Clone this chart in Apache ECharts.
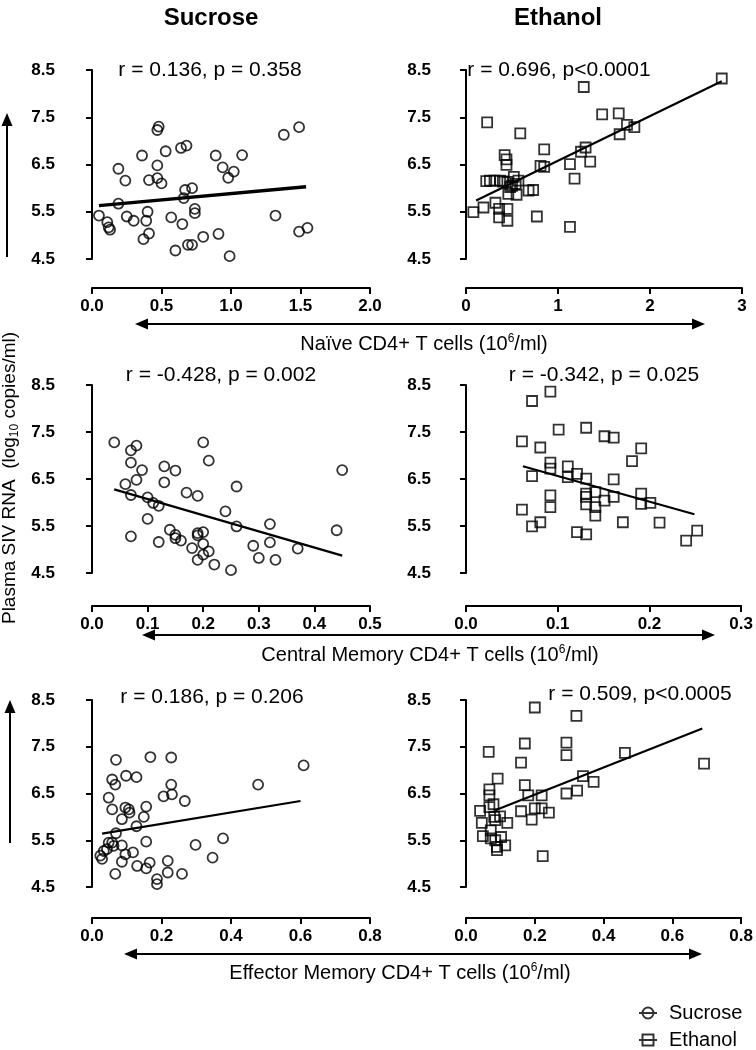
<!DOCTYPE html>
<html><head><meta charset="utf-8">
<script src="https://cdn.jsdelivr.net/npm/echarts@6/dist/echarts.min.js"></script>
<style>html,body{margin:0;padding:0;background:#fff}#c{width:756px;height:1050px}</style>
</head><body><div id="c"></div>
<script>
// ---------- DATA ----------
const yTicks = [4.5, 5.5, 6.5, 7.5, 8.5];

// Naive CD4+ T cells
const sucNaiveX = [0.05,0.11,0.12,0.13,0.19,0.19,0.24,0.25,0.30,0.36,0.37,0.40,0.39,0.41,0.41,0.47,0.48,0.47,0.47,0.50,0.53,0.57,0.60,0.64,0.68,0.65,0.66,0.67,0.72,0.69,0.72,0.74,0.74,0.80,0.89,0.94,0.98,1.02,0.91,0.99,1.08,1.32,1.38,1.49,1.49,1.55];
const sucNaiveY = [5.42,5.28,5.17,5.12,6.41,5.67,6.16,5.40,5.31,6.69,4.92,5.50,5.31,5.04,6.17,7.23,7.30,6.48,6.21,6.10,6.78,5.38,4.68,6.85,6.90,5.24,5.79,5.96,6.00,4.80,4.80,5.56,5.47,4.97,6.69,6.44,6.22,6.35,5.03,4.56,6.70,5.42,7.13,7.29,5.08,5.16];
const ethNaiveX = [0.08,0.19,0.23,0.22,0.26,0.31,0.32,0.36,0.36,0.37,0.42,0.44,0.44,0.45,0.45,0.45,0.46,0.48,0.52,0.54,0.55,0.57,0.59,0.68,0.73,0.77,0.81,0.85,0.85,1.13,1.13,1.18,1.25,1.28,1.30,1.35,1.48,1.66,1.67,1.75,1.83,2.78,0.50,0.40];
const ethNaiveY = [5.49,5.59,7.39,6.15,6.16,6.16,5.69,5.56,5.38,6.16,6.70,6.61,6.49,6.13,5.56,5.31,5.88,6.02,6.24,6.09,5.86,6.16,7.16,5.95,5.96,5.40,6.47,6.45,6.82,6.51,5.18,6.20,6.77,8.14,6.86,6.56,7.56,7.58,7.14,7.34,7.29,8.32,6.05,6.14];

// Central Memory CD4+ T cells
const sucCMX = [0.04,0.07,0.08,0.07,0.09,0.08,0.06,0.07,0.10,0.11,0.12,0.10,0.07,0.12,0.13,0.15,0.13,0.14,0.15,0.15,0.16,0.17,0.19,0.18,0.19,0.19,0.20,0.19,0.20,0.20,0.21,0.20,0.21,0.22,0.24,0.25,0.26,0.26,0.29,0.30,0.32,0.32,0.33,0.37,0.44,0.45];
const sucCMY = [7.28,7.11,7.21,6.85,6.69,6.48,6.39,6.16,6.11,5.99,5.93,5.65,5.28,5.16,6.77,6.68,6.43,5.42,5.31,5.24,5.19,6.21,6.14,5.03,5.35,5.30,5.37,4.78,5.12,4.89,4.96,7.28,6.89,4.68,5.81,4.56,6.34,5.49,5.08,4.82,5.54,5.15,4.78,5.02,5.41,6.69];
const ethCMX = [0.061,0.061,0.072,0.072,0.072,0.081,0.081,0.092,0.092,0.092,0.092,0.092,0.101,0.111,0.111,0.121,0.121,0.131,0.131,0.131,0.131,0.131,0.131,0.141,0.141,0.141,0.151,0.151,0.161,0.161,0.161,0.171,0.181,0.191,0.191,0.191,0.201,0.211,0.240,0.252];
const ethCMY = [7.30,5.85,8.16,6.56,5.49,7.17,5.58,8.36,6.85,6.72,6.15,5.90,7.55,6.77,6.54,6.61,5.37,7.59,6.51,6.19,6.12,5.96,5.32,6.22,5.90,5.72,7.41,6.04,7.38,6.49,6.12,5.58,6.88,7.15,6.19,5.97,5.99,5.57,5.19,5.40];

// Effector Memory CD4+ T cells
const sucEMX = [0.024,0.029,0.034,0.043,0.048,0.048,0.058,0.058,0.067,0.069,0.058,0.062,0.069,0.067,0.086,0.086,0.086,0.096,0.098,0.106,0.108,0.096,0.118,0.128,0.128,0.130,0.149,0.156,0.156,0.156,0.166,0.168,0.187,0.187,0.206,0.218,0.218,0.228,0.228,0.230,0.259,0.267,0.298,0.347,0.377,0.478,0.609];
const sucEMY = [5.17,5.10,5.27,5.31,5.45,6.41,6.16,6.80,6.69,7.22,5.45,5.38,5.65,4.78,5.39,5.04,5.95,6.20,6.88,6.16,6.09,5.20,5.24,6.85,5.80,4.95,6.00,6.22,5.47,4.90,5.02,7.28,4.67,4.56,6.44,5.06,4.81,7.27,6.69,6.48,4.78,6.34,5.40,5.13,5.54,6.69,7.10];
const ethEMX = [0.041,0.046,0.049,0.066,0.068,0.068,0.068,0.072,0.072,0.080,0.082,0.085,0.085,0.090,0.090,0.092,0.099,0.102,0.114,0.120,0.160,0.160,0.171,0.171,0.181,0.191,0.200,0.200,0.220,0.220,0.223,0.241,0.292,0.292,0.292,0.321,0.323,0.340,0.371,0.462,0.692];
const ethEMY = [6.13,5.87,5.59,7.39,6.59,6.46,6.21,5.71,5.54,6.27,6.00,5.93,5.50,5.36,5.29,6.82,6.01,5.57,5.39,5.87,6.12,7.16,7.57,6.68,6.46,5.94,8.34,6.18,6.46,6.18,5.16,6.09,7.59,7.32,6.50,8.16,6.56,6.87,6.75,7.37,7.14];

// Regression line end points
const fitSucNaiveX = [0.05, 1.54], fitSucNaiveY = [5.63, 6.03];
const fitEthNaiveX = [0.11, 2.78], fitEthNaiveY = [5.74, 8.26];
const fitSucCMX = [0.04, 0.45],   fitSucCMY = [6.28, 4.87];
const fitEthCMX = [0.062, 0.249], fitEthCMY = [6.77, 5.75];
const fitSucEMX = [0.029, 0.60],  fitSucEMY = [5.64, 6.34];
const fitEthEMX = [0.085, 0.687], fitEthEMY = [6.14, 7.89];

const statTexts = ['r = 0.136, p = 0.358','r = 0.696, p<0.0001','r = -0.428, p = 0.002','r = -0.342, p = 0.025','r = 0.186, p = 0.206','r = 0.509, p<0.0005'];
const groupNames = ['Sucrose','Ethanol'];
const xTitles = ['Naïve CD4+ T cells (10','Central Memory CD4+ T cells (10','Effector Memory CD4+ T cells (10'];

// ---------- BUILD ----------
const FONT = '"Liberation Sans", Arial, Helvetica, sans-serif';
const zip = (a,b) => a.map((v,i)=>[v,b[i]]);

const panels = [
  {x:sucNaiveX,y:sucNaiveY,fx:fitSucNaiveX,fy:fitSucNaiveY,g:0,xmax:2,  xint:0.5,dec:1,lw:3.4},
  {x:ethNaiveX,y:ethNaiveY,fx:fitEthNaiveX,fy:fitEthNaiveY,g:1,xmax:3,  xint:1,  dec:0,lw:2.2},
  {x:sucCMX,   y:sucCMY,   fx:fitSucCMX,   fy:fitSucCMY,   g:0,xmax:0.5,xint:0.1,dec:1,lw:2.2},
  {x:ethCMX,   y:ethCMY,   fx:fitEthCMX,   fy:fitEthCMY,   g:1,xmax:0.3,xint:0.1,dec:1,lw:2.2},
  {x:sucEMX,   y:sucEMY,   fx:fitSucEMX,   fy:fitSucEMY,   g:0,xmax:0.8,xint:0.2,dec:1,lw:2.2},
  {x:ethEMX,   y:ethEMY,   fx:fitEthEMX,   fy:fitEthEMY,   g:1,xmax:0.8,xint:0.2,dec:1,lw:2.2}
];
const rowTop = [70, 385, 700], rowH = [189, 188, 187], xOff = [29, 33, 31];
const colLeft = [92, 466], colW = [278, 276], yOff = [30, 28];

const axisLine = {show:true, lineStyle:{color:'#000', width:2}};
const axisTick = {show:true, length:6, lineStyle:{color:'#000', width:2}};
const tickFont = {color:'#000', fontFamily:FONT, fontWeight:'bold', fontSize:17};

const grid=[], xAxis=[], yAxis=[], series=[];
panels.forEach((p,i)=>{
  const r = Math.floor(i/2), c = i%2;
  grid.push({left:colLeft[c], top:rowTop[r], width:colW[c], height:rowH[r], containLabel:false});
  xAxis.push({type:'value', gridIndex:i, min:0, max:p.xmax, interval:p.xint, offset:xOff[r],
    axisLine, axisTick, splitLine:{show:false},
    axisLabel:Object.assign({margin:10, formatter:v=>v.toFixed(p.dec)}, tickFont)});
  yAxis.push({type:'value', gridIndex:i, min:4.5, max:8.5, offset:yOff[c],
    axisLine, axisTick:Object.assign({customValues:yTicks}, axisTick), splitLine:{show:false},
    axisLabel:Object.assign({margin:7, customValues:yTicks, formatter:v=>v.toFixed(1)}, tickFont)});
  series.push({type:'scatter', name:groupNames[p.g], xAxisIndex:i, yAxisIndex:i,
    data:zip(p.x,p.y), symbol:p.g===0?'circle':'rect', symbolSize:10,
    itemStyle:{color:'rgba(0,0,0,0)', borderColor:'#000', borderWidth:1.8}, z:3});
  series.push({type:'line', name:'fit'+i, xAxisIndex:i, yAxisIndex:i, data:zip(p.fx,p.fy),
    symbol:'none', lineStyle:{color:'#000', width:p.lw}, z:4, silent:true});
});

// ---------- annotations ----------
const graphic = [];
function txt(x,y,text,size,bold){
  graphic.push({type:'text', x, y, style:{text, fill:'#000', font:(bold?'bold ':'')+size+'px '+FONT, align:'center', verticalAlign:'middle'}});
}
txt(211, 18, 'Sucrose', 24, true);
txt(558, 18, 'Ethanol', 24, true);
const statPos = [[210,70],[559,70],[221,375],[604,375],[212,697],[640,694]];
statTexts.forEach((t,i)=>txt(statPos[i][0], statPos[i][1], t, 21, false));

const richX = {a:{fontSize:20, fontFamily:FONT, fill:'#000', lineHeight:22}, s:{fontSize:12, fontFamily:FONT, fill:'#000', lineHeight:12, verticalAlign:'top'}};
const xTitlePos = [[424,344],[430,655],[400,973]];
xTitles.forEach((t,i)=>{
  graphic.push({type:'text', x:xTitlePos[i][0], y:xTitlePos[i][1],
    style:{text:'{a|'+t+'}{s|6}{a|/ml)}', rich:richX, align:'center', verticalAlign:'middle'}});
});
graphic.push({type:'text', x:10, y:478, rotation:Math.PI/2,
  style:{text:'{a|Plasma SIV RNA  (log}{b|10}{a| copies/ml)}', align:'center', verticalAlign:'middle',
   rich:{a:{fontSize:19, fontFamily:FONT, fill:'#000', lineHeight:22}, b:{fontSize:12, fontFamily:FONT, fill:'#000', lineHeight:12, verticalAlign:'bottom'}}}});

function hArrow(x1,x2,y){
  graphic.push({type:'line', shape:{x1:x1+6,y1:y,x2:x2-6,y2:y}, style:{stroke:'#000', lineWidth:2}});
  graphic.push({type:'polygon', shape:{points:[[x1,y],[x1+13,y-5.5],[x1+13,y+5.5]]}, style:{fill:'#000'}});
  graphic.push({type:'polygon', shape:{points:[[x2,y],[x2-13,y-5.5],[x2-13,y+5.5]]}, style:{fill:'#000'}});
}
function vArrow(x,yTop,yBot){
  graphic.push({type:'line', shape:{x1:x,y1:yTop+6,x2:x,y2:yBot}, style:{stroke:'#000', lineWidth:2}});
  graphic.push({type:'polygon', shape:{points:[[x,yTop],[x-5.5,yTop+13],[x+5.5,yTop+13]]}, style:{fill:'#000'}});
}
hArrow(135, 705, 324);
hArrow(142, 715, 635);
hArrow(124, 702, 954);
vArrow(7, 113, 257);
vArrow(10, 700, 843);

const legendBase = {orient:'horizontal', left:633, itemWidth:18, itemHeight:12, selectedMode:false,
  textStyle:{fontSize:20, fontFamily:FONT, color:'#000', padding:[0,0,0,7]},
  itemStyle:{color:'rgba(0,0,0,0)', borderColor:'#000', borderWidth:2}};
const legend = [
  Object.assign({top:998, data:[{name:groupNames[0], icon:'path://M0,6 L18,6 M3.5,6 A5.5,5.5 0 1,1 14.5,6 A5.5,5.5 0 1,1 3.5,6 Z'}]}, legendBase),
  Object.assign({top:1025, data:[{name:groupNames[1], icon:'path://M0,6 L18,6 M3.5,0.5 L14.5,0.5 L14.5,11.5 L3.5,11.5 Z'}]}, legendBase)
];

const option = {animation:false, backgroundColor:'#fff', grid, xAxis, yAxis, series, graphic, legend};
const chart = echarts.init(document.getElementById('c'));
chart.setOption(option);
</script></body></html>
